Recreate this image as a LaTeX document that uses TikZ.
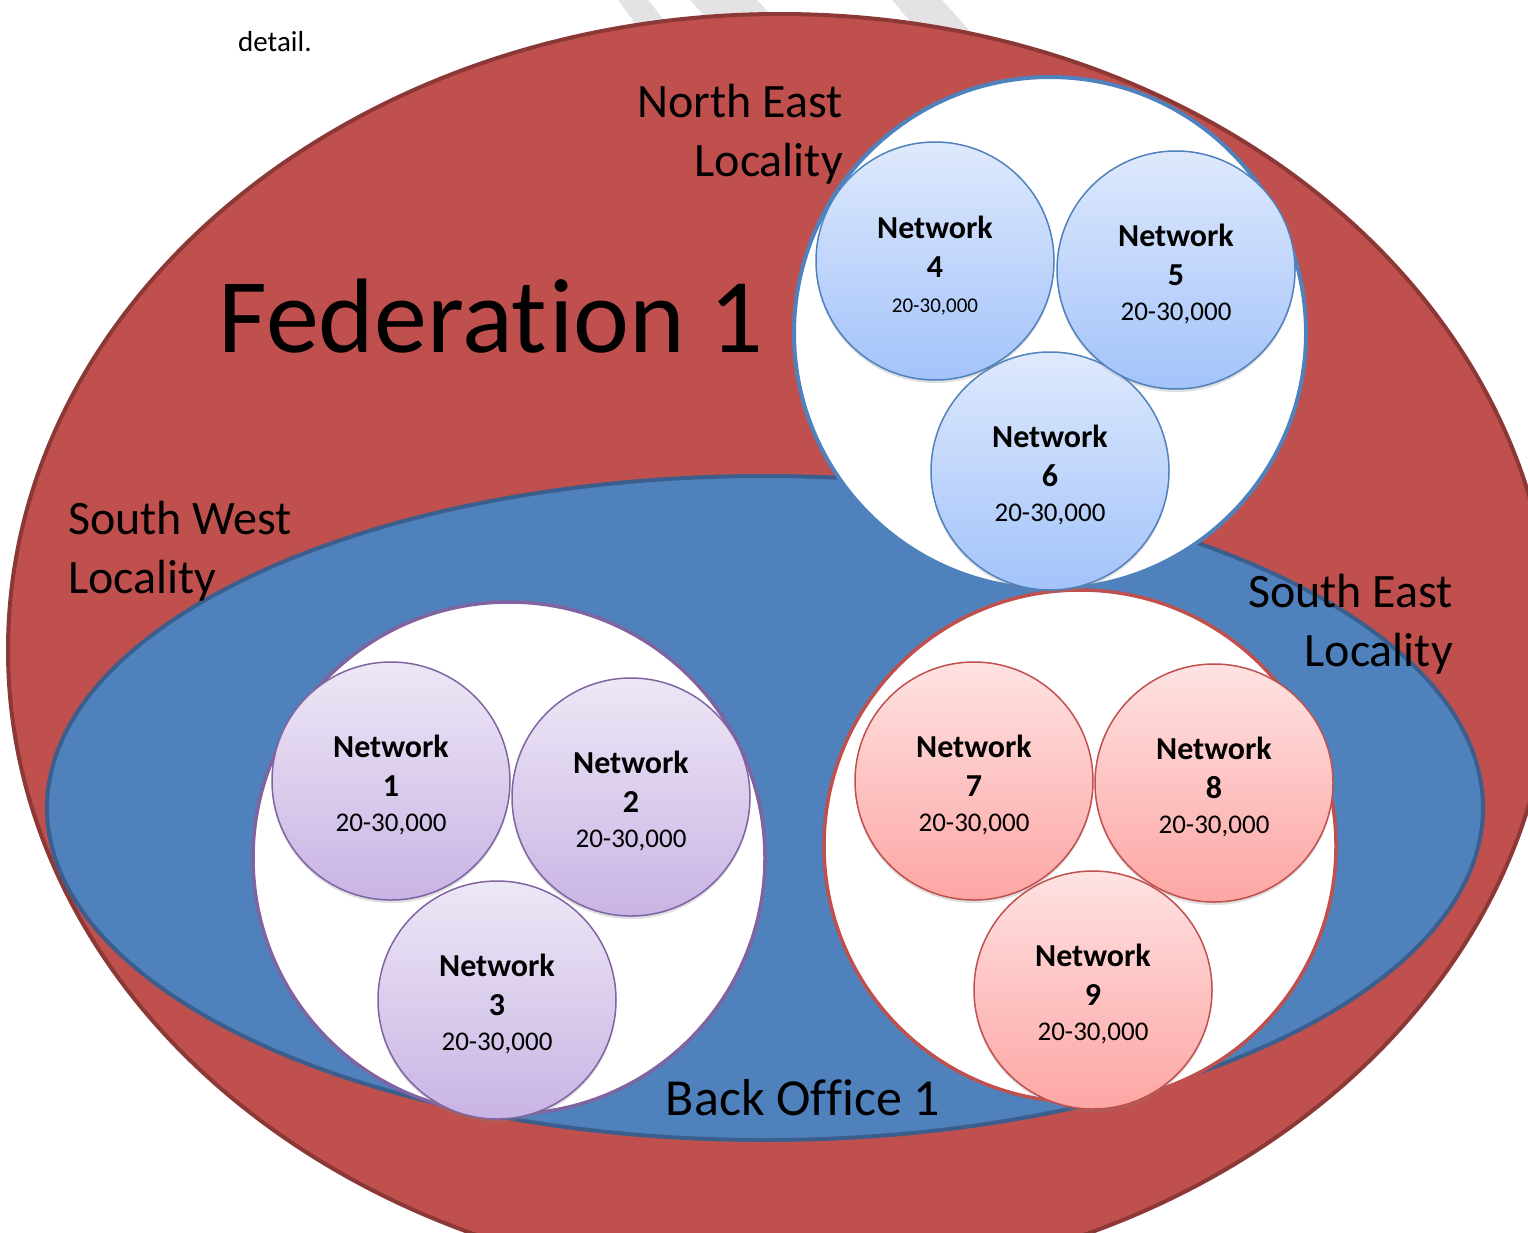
\documentclass[tikz,border=0pt]{standalone}
\usepackage{fontspec}
\setmainfont{Carlito}[Ligatures={NoCommon,NoContextual},Contextuals=NoAlternate]
\usetikzlibrary{shadows}
\definecolor{fedred}{HTML}{C0504D}
\definecolor{fededge}{HTML}{8C3836}
\definecolor{boblue}{HTML}{4F81BD}
\definecolor{boedge}{HTML}{3B5E8C}
\definecolor{locpurple}{HTML}{8064A2}
\definecolor{bluetop}{HTML}{DEE9FC}
\definecolor{bluebot}{HTML}{A3C3FA}
\definecolor{purptop}{HTML}{EEE7F6}
\definecolor{purpbot}{HTML}{C8B4E4}
\definecolor{redtop}{HTML}{FEE2E2}
\definecolor{redbot}{HTML}{FDA6A4}
\newcommand{\nettext}[2][27]{\rule{0pt}{31pt}Network\\#2\\[-4pt]{\mdseries\fontsize{#1}{30}\selectfont 20-30,000}}
\begin{document}
\begin{tikzpicture}[x=1pt,y=-1pt,
  network/.style={circle,draw,line width=1.5pt,minimum size=238pt,inner sep=0pt,
    align=center,font=\bfseries\fontsize{32}{39}\selectfont,
    drop shadow={shadow xshift=0pt,shadow yshift=-3pt,opacity=.25}},
  netblue/.style={network,draw=boblue,top color=bluetop,bottom color=bluebot},
  netpurple/.style={network,draw=locpurple,top color=purptop,bottom color=purpbot},
  netred/.style={network,draw=fedred,top color=redtop,bottom color=redbot},
  loclabel/.style={font=\fontsize{48}{48}\selectfont,inner sep=0pt}]
  \useasboundingbox (0,0) rectangle (1528,1232);
  \fill[white] (0,0) rectangle (1528,1232);
  \clip (0,0) rectangle (1528,1232);
  \fill[gray!22] (618,0) -- (648,0) -- (672,30) -- (640,30) -- cycle;
  \fill[gray!22] (690,0) -- (757,0) -- (790,35) -- (722,35) -- cycle;
  \fill[gray!22] (892,0) -- (942,0) -- (978,40) -- (926,40) -- cycle;
  \node[anchor=base west,font=\fontsize{29}{29}\selectfont,inner sep=0pt] (detail) at (238,51) {detail.};
  \draw[fill=fedred,draw=fededge,line width=4pt] (780,650) ellipse[x radius=772pt,y radius=636pt];
  \draw[fill=boblue,draw=boedge,line width=4pt] (765,808) ellipse[x radius=718pt,y radius=332pt];
  \draw[fill=white,draw=boblue,line width=4pt] (1050,333) circle[radius=256pt];
  \draw[fill=white,draw=locpurple,line width=3.5pt] (509,858) circle[radius=256pt];
  \draw[fill=white,draw=fedred,line width=3.5pt] (1080,846) circle[radius=256pt];
  \node[anchor=base,font=\fontsize{106}{106}\selectfont,inner sep=0pt] (fed) at (491,352) {Federat\kern2pt ion 1};
  \node[loclabel,anchor=base east] (ne1) at (843,117) {North East};
  \node[loclabel,anchor=base east] (ne2) at (843,176) {Locality};
  \node[loclabel,anchor=base west] (sw1) at (68,534) {South West};
  \node[loclabel,anchor=base west] (sw2) at (68,593) {Locality};
  \node[loclabel,anchor=base east] (se1) at (1453,607) {South East};
  \node[loclabel,anchor=base east] (se2) at (1453,666) {Locality};
  \node[loclabel,anchor=base,font=\fontsize{52}{52}\selectfont] (bo) at (803,1115) {Back Office 1};
  \node[netblue] (n6) at (1050,471) {\nettext{6}};
  \node[netblue] (n4) at (935,261) {\nettext[21]{4}};
  \node[netblue] (n5) at (1176,270) {\nettext{5}};
  \node[netpurple] (n1) at (391,781) {\nettext{1}};
  \node[netpurple] (n2) at (631,797) {\nettext{2}};
  \node[netpurple] (n3) at (497,1000) {\nettext{3}};
  \node[netred] (n7) at (974,781) {\nettext{7}};
  \node[netred] (n8) at (1214,783) {\nettext{8}};
  \node[netred] (n9) at (1093,990) {\nettext{9}};
\end{tikzpicture}
\end{document}
